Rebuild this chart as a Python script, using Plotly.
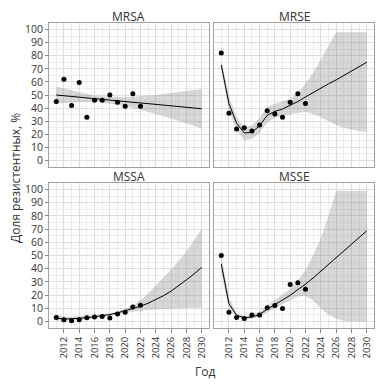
import plotly.graph_objects as go

# page is rendered with an 8px body margin, so figure coords = page px - 8
OFF = 8
W, H = 390 - OFF, 389 - OFF

panels = ["MRSA", "MRSE", "MSSA", "MSSE"]
obs_years = list(range(2011, 2023))
fit_years = list(range(2011, 2031))

obs = {
    "MRSA": [45, 62, 42, 59.5, 33, 46, 46, 50, 44.5, 41.5, 51, 41.5],
    "MRSE": [82, 36, 24, 25, 22.5, 27, 38, 35.5, 33, 44.5, 51, 43.5],
    "MSSA": [3, 1.3, 0.5, 1.3, 2.8, 3.3, 3.8, 2.5, 5.6, 6.9, 11, 12.2],
    "MSSE": [50, 7, 3, 2.3, 4.8, 4.8, 10.4, 12, 9.7, 28, 29.3, 24.4],
}
fit = {
    "MRSA": [50, 49.4, 48.9, 48.3, 47.8, 47.2, 46.7, 46.1, 45.6, 45.0, 44.5, 43.9, 43.4, 42.8, 42.3, 41.7, 41.2, 40.6, 40.1, 39.5],
    "MRSE": [73, 43.5, 28.5, 21, 21.5, 26.5, 34.5, 37.5, 39.3, 42, 45, 48.5, 52, 55.5, 58.5, 61.5, 64.8, 68, 71.5, 75],
    "MSSA": [2.5, 1.8, 2, 2.2, 2.8, 3.5, 4.3, 5.2, 6.5, 8, 9.8, 11.5, 13.8, 16.5, 19.5, 23, 27, 31.5, 36, 41],
    "MSSE": [43.5, 13.5, 4.6, 2.8, 3.3, 5.3, 9.2, 12.7, 16, 19.8, 24.2, 28.2, 33, 38, 43, 48.3, 53.5, 58.5, 63.5, 68.7],
}
upper = {
    "MRSA": [56.5, 55, 53.5, 52, 50.5, 49.5, 49, 48.6, 48.5, 48.5, 48.7, 49, 49.5, 50, 50.8, 51.5, 52.3, 53, 53.8, 54.5],
    "MRSE": [77, 49, 33, 25.5, 26.5, 32.5, 41, 43.5, 45.5, 47, 52, 58.5, 67, 77, 88, 98, 98, 98, 98, 98],
    "MSSA": [5, 3.5, 3.5, 3.8, 4.2, 4.8, 5.3, 6.2, 7.8, 9.8, 12.5, 16, 21, 27, 33, 39.5, 46, 53, 61.5, 70.5],
    "MSSE": [50, 18, 6.5, 4, 5, 7.5, 12, 16, 20, 24.5, 31, 39, 50, 63, 80, 99, 99, 99, 99, 99],
}
lower = {
    "MRSA": [43.5, 43.8, 44.2, 44.5, 44.8, 45, 44.5, 43.6, 42.6, 41.5, 40.2, 38.8, 37.2, 35.5, 33.7, 32, 30.2, 28.3, 26.5, 24.5],
    "MRSE": [69, 38, 23, 15.5, 16.5, 21, 29, 32.5, 34, 35.5, 36.5, 37, 35.5, 33, 30, 27, 25, 23.5, 22.5, 22],
    "MSSA": [0.5, 0.6, 0.9, 1.2, 1.8, 2.5, 3.2, 4.1, 5.1, 6.3, 7.3, 8.2, 8.8, 9.2, 9.5, 9.8, 10, 10.2, 10.4, 10.6],
    "MSSE": [37, 9.5, 3, 1.5, 2, 3.5, 7, 10, 13, 16, 19, 19, 16, 10, 5, 2, 0.5, 0, 0, 0],
}
y_ticks = list(range(0, 101, 10))
x_ticks = list(range(2012, 2031, 2))

# panel page-pixel boxes (left, right, top, bottom)
boxes = {
    "MRSA": (49, 209, 23, 167),
    "MRSE": (214, 374, 23, 167),
    "MSSA": (49, 209, 183, 328),
    "MSSE": (214, 374, 183, 328),
}

def px(v):
    return (v - OFF) / W

def py(v):
    return 1 - (v - OFF) / H

FONT = "Open Sans"
TXT = "#333333"
fig = go.Figure()
layout = dict(
    width=W, height=H, margin=dict(l=0, r=0, t=0, b=0, autoexpand=False),
    paper_bgcolor="white", plot_bgcolor="white", showlegend=False,
    font=dict(family=FONT, size=11, color=TXT),
)
annotations = []
for i, p in enumerate(panels):
    n = "" if i == 0 else str(i + 1)
    xa, ya = "x" + n, "y" + n
    l, r, t, b = boxes[p]
    left_col = p in ("MRSA", "MSSA")
    bottom_row = p in ("MSSA", "MSSE")
    layout["xaxis" + n] = dict(
        domain=[px(l), px(r)], anchor=ya, range=[2010.05, 2030.95], automargin=False,
        tickmode="array", tickvals=x_ticks, ticktext=[str(v) for v in x_ticks],
        showticklabels=bottom_row, tickangle=-90,
        ticks="outside" if bottom_row else "", ticklen=4, tickcolor="#888888",
        tickfont=dict(size=9.5, color=TXT),
        showgrid=True, gridcolor="#dcdcdc", gridwidth=1,
        minor=dict(tickmode="linear", tick0=2011, dtick=2, showgrid=True, gridcolor="#ececec", gridwidth=1),
        showline=True, mirror=True, linecolor="#a0a0a0", linewidth=1, zeroline=False,
    )
    layout["yaxis" + n] = dict(
        domain=[py(b), py(t)], anchor=xa, range=[-5, 105], automargin=False,
        tickmode="array", tickvals=y_ticks, ticktext=[str(v) for v in y_ticks],
        showticklabels=left_col, ticks="outside" if left_col else "", ticklen=3, tickcolor="#888888",
        tickfont=dict(size=10.5, color=TXT),
        showgrid=True, gridcolor="#dcdcdc", gridwidth=1,
        minor=dict(tickmode="linear", tick0=5, dtick=10, showgrid=True, gridcolor="#ececec", gridwidth=1),
        showline=True, mirror=True, linecolor="#a0a0a0", linewidth=1, zeroline=False,
    )
    fig.add_trace(go.Scatter(x=fit_years, y=lower[p], mode="lines", line=dict(width=0),
                             xaxis=xa, yaxis=ya, hoverinfo="skip"))
    fig.add_trace(go.Scatter(x=fit_years, y=upper[p], mode="lines", line=dict(width=0),
                             fill="tonexty", fillcolor="rgba(150,150,150,0.38)",
                             xaxis=xa, yaxis=ya, hoverinfo="skip"))
    fig.add_trace(go.Scatter(x=fit_years, y=fit[p], mode="lines", line=dict(color="black", width=1),
                             xaxis=xa, yaxis=ya))
    fig.add_trace(go.Scatter(x=obs_years, y=obs[p], mode="markers", marker=dict(color="black", size=5),
                             xaxis=xa, yaxis=ya))
    annotations.append(dict(text=p, x=px((l + r) / 2), y=py(t - 7), xref="paper", yref="paper",
                            showarrow=False, font=dict(size=12, color=TXT),
                            xanchor="center", yanchor="middle"))

annotations.append(dict(text="Доля резистентных, %", x=px(15), y=py(178), xref="paper", yref="paper",
                        showarrow=False, textangle=-90, font=dict(size=12, color=TXT),
                        xanchor="center", yanchor="middle"))
annotations.append(dict(text="Год", x=px(205), y=py(371), xref="paper", yref="paper",
                        showarrow=False, font=dict(size=12, color=TXT),
                        xanchor="center", yanchor="middle"))
layout["annotations"] = annotations
fig.update_layout(**layout)
fig.write_html("out.html")
